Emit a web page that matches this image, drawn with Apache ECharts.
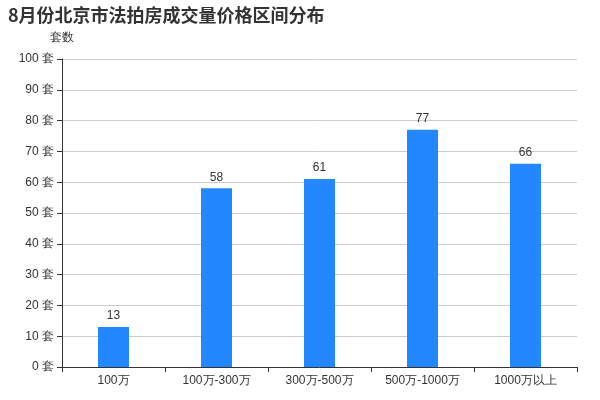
<!DOCTYPE html>
<html><head><meta charset="utf-8">
<script src="https://cdn.jsdelivr.net/npm/echarts@6/dist/echarts.min.js"></script>
<style>html,body{margin:0;padding:0;background:#fff}#c{width:600px;height:400px}</style>
</head><body><div id="c"></div>
<script>
const categories = ['100万', '100万-300万', '300万-500万', '500万-1000万', '1000万以上'];
const values = [13, 58, 61, 77, 66];
const chart = echarts.init(document.getElementById('c'), null, {renderer: 'canvas'});
chart.setOption({
  animation: false,
  title: {text: '8月份北京市法拍房成交量价格区间分布', left: 3, top: 1,
    textStyle: {fontSize: 18, fontWeight: 'bold', color: '#333', fontFamily: 'Noto Sans CJK SC'}},
  grid: {left: 62, right: 23, top: 59, bottom: 33},
  xAxis: {type: 'category', data: categories,
    axisLine: {lineStyle: {color: '#333'}},
    axisTick: {show: true, lineStyle: {color: '#333'}},
    axisLabel: {color: '#333', fontSize: 12, margin: 8}},
  yAxis: {type: 'value', min: 0, max: 100, interval: 10, name: '套数',
    nameTextStyle: {color: '#333', fontSize: 12, align: 'center'},
    nameGap: 15,
    axisLine: {show: true, lineStyle: {color: '#333'}},
    axisTick: {show: true, lineStyle: {color: '#333'}},
    axisLabel: {color: '#333', fontSize: 12, formatter: '{value} 套'},
    splitLine: {lineStyle: {color: '#ccc'}}},
  series: [{type: 'bar', data: values, barWidth: 31,
    itemStyle: {color: '#2388FF'},
    label: {show: true, position: 'top', color: '#333', fontSize: 12}}]
});
</script></body></html>
